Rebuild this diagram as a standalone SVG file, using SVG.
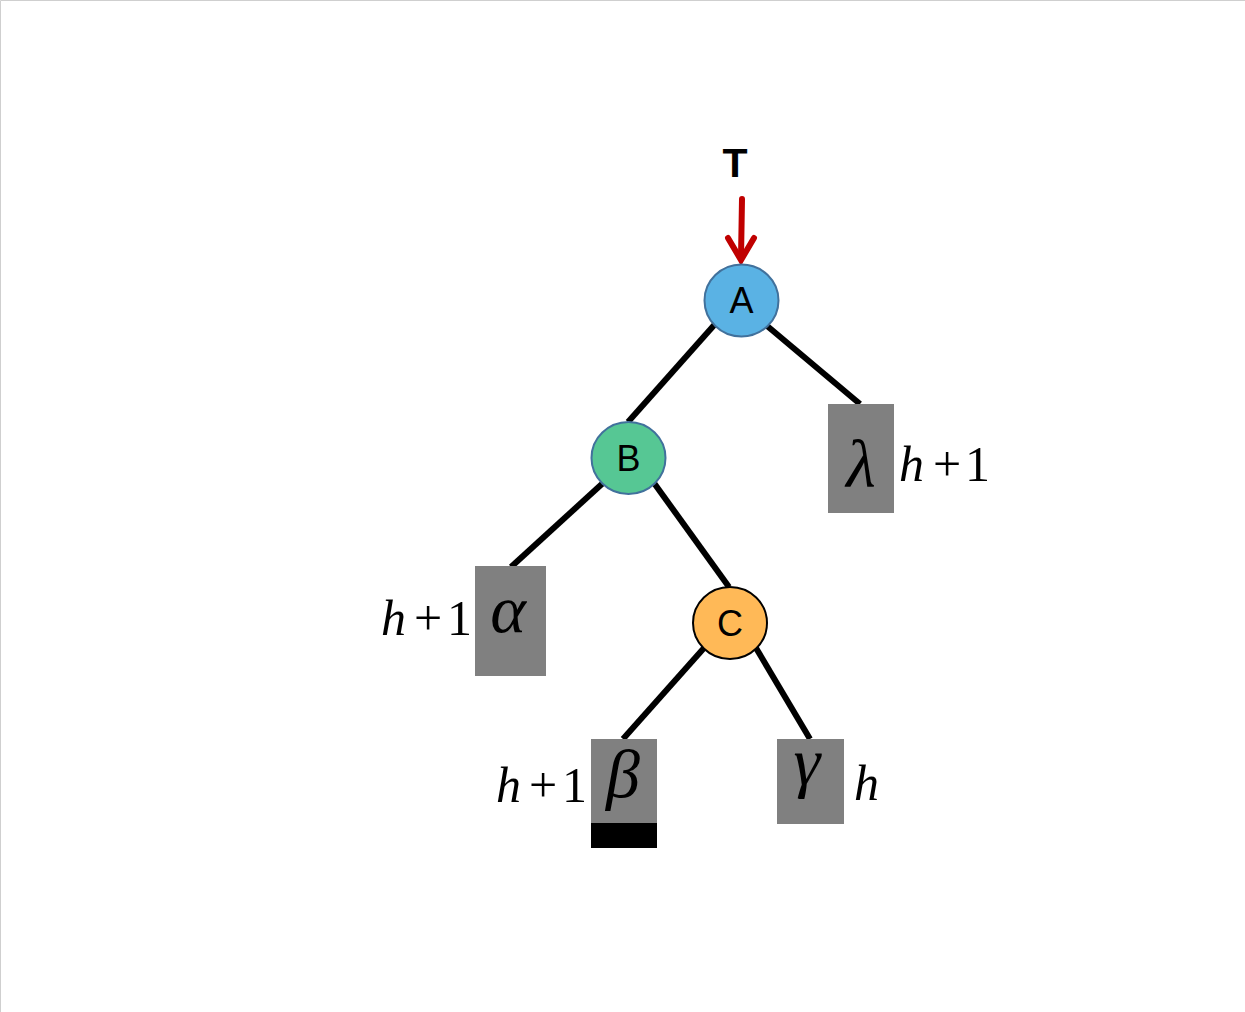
<svg xmlns="http://www.w3.org/2000/svg" width="1245" height="1012" viewBox="0 0 1245 1012">
<style>
.edge{stroke:#000;stroke-width:6;fill:none}
.box{fill:#808080}
.lbl{font-family:"Liberation Sans",Arial,sans-serif;font-size:36px;fill:#000;text-anchor:middle}
.greek{font-family:"Liberation Serif","Times New Roman","DejaVu Serif",serif;font-style:italic;font-size:68px;fill:#000;text-anchor:middle}
.math{font-family:"Liberation Serif","Times New Roman","DejaVu Serif",serif;font-size:50px;fill:#000}
.it{font-style:italic}
</style>
<rect width="1245" height="1012" fill="#fff"/>
<path d="M0.5 1012 V0.5 H1245" stroke="#CFCFCF" stroke-width="1" fill="none"/>
<g id="connectors">
<line class="edge" x1="716" y1="323" x2="628" y2="422"/>
<line class="edge" x1="766" y1="325" x2="860" y2="404"/>
<line class="edge" x1="603" y1="483" x2="511" y2="567"/>
<line class="edge" x1="654" y1="483" x2="729" y2="587"/>
<line class="edge" x1="704" y1="648" x2="623" y2="739"/>
<line class="edge" x1="756" y1="648" x2="810" y2="739"/>
<g id="arrow-T" stroke="#C00000" stroke-width="6" fill="none" stroke-linecap="round">
<line x1="742" y1="199" x2="741" y2="258"/>
<polyline points="728,238 741,260 754,238" stroke-linejoin="miter"/>
</g>
</g>
<g id="label-T"><text x="735" y="177" font-family="Liberation Sans,Arial,sans-serif" font-weight="bold" font-size="41" text-anchor="middle">T</text></g>
<g id="node-A">
<ellipse cx="741.5" cy="300.5" rx="37" ry="36" fill="#5AB2E4" stroke="#41719C" stroke-width="2"/>
<text class="lbl" x="741.5" y="313">A</text>
</g>
<g id="node-B">
<ellipse cx="628.5" cy="458" rx="37" ry="36" fill="#56C794" stroke="#41719C" stroke-width="2"/>
<text class="lbl" x="628.5" y="471">B</text>
</g>
<g id="node-C">
<ellipse cx="730" cy="623" rx="37" ry="36" fill="#FFB957" stroke="#000" stroke-width="2"/>
<text class="lbl" x="730" y="636">C</text>
</g>
<g id="node-lambda">
<rect class="box" x="828" y="404" width="66" height="109"/>
<text class="greek" x="861" y="487">λ</text>
<text class="math"><tspan class="it" x="899" y="481">h</tspan><tspan x="933" y="481">+</tspan><tspan x="965" y="481">1</tspan></text>
</g>
<g id="node-alpha">
<rect class="box" x="475" y="566" width="71" height="110"/>
<text class="greek" x="508" y="632">α</text>
<text class="math"><tspan class="it" x="381" y="635">h</tspan><tspan x="414" y="635">+</tspan><tspan x="447" y="635">1</tspan></text>
</g>
<g id="node-beta">
<rect class="box" x="591" y="739" width="66" height="85"/>
<rect x="591" y="823" width="66" height="25" fill="#000"/>
<text class="greek" x="623" y="797">β</text>
<text class="math"><tspan class="it" x="496" y="802">h</tspan><tspan x="529" y="802">+</tspan><tspan x="562" y="802">1</tspan></text>
</g>
<g id="node-gamma">
<rect class="box" x="777" y="739" width="67" height="85"/>
<text class="greek" x="807" y="785">γ</text>
<text class="math"><tspan class="it" x="854" y="800">h</tspan></text>
</g>
</svg>
